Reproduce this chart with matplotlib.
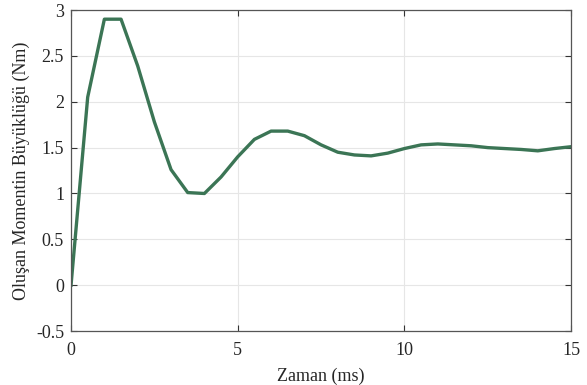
import matplotlib.pyplot as plt

plt.rcParams['font.family'] = ['Liberation Serif', 'DejaVu Serif']

# zaman (ms) ve moment (Nm)
zaman = [0, 0.5, 1, 1.5, 2, 2.5, 3, 3.5, 4, 4.5, 5, 5.5, 6, 6.5, 7, 7.5,
         8, 8.5, 9, 9.5, 10, 10.5, 11, 11.5, 12, 12.5, 13, 13.5, 14, 14.5, 15]
moment = [0, 2.05, 2.90, 2.90, 2.39, 1.78, 1.26, 1.01, 1.00, 1.18, 1.40,
          1.59, 1.68, 1.68, 1.63, 1.53, 1.45, 1.42, 1.41, 1.44, 1.49, 1.53,
          1.54, 1.53, 1.52, 1.50, 1.49, 1.48, 1.465, 1.49, 1.51]

fig = plt.figure(figsize=(5.87, 3.85), dpi=100)
ax = fig.add_axes([0.121, 0.140, 0.852, 0.834])
ax.plot(zaman, moment, color='#3b7555', lw=2.4)

ax.set_xlim(0, 15)
ax.set_ylim(-0.5, 3)
ax.set_xticks([0, 5, 10, 15])
ax.set_yticks([-0.5, 0, 0.5, 1, 1.5, 2, 2.5, 3])
ax.set_yticklabels(['-0.5', '0', '0.5', '1', '1.5', '2', '2.5', '3'])
ax.grid(True, color='#e6e6e6', lw=0.8)
ax.set_axisbelow(True)
ax.tick_params(direction='in', top=True, right=True, labelsize=13,
               color='#333333', length=4, labelcolor='#262626')
ax.tick_params(axis='x', pad=8)
ax.tick_params(axis='y', pad=5)
for s in ax.spines.values():
    s.set_color('#555555')
    s.set_linewidth(0.9)

ax.set_xlabel('Zaman (ms)', fontsize=13, labelpad=6, color='#262626')
ax.set_ylabel('Oluşan Momentin Büyüklüğü (Nm)', fontsize=13, labelpad=4,
              color='#262626')

fig.savefig('out.png', dpi=100)
